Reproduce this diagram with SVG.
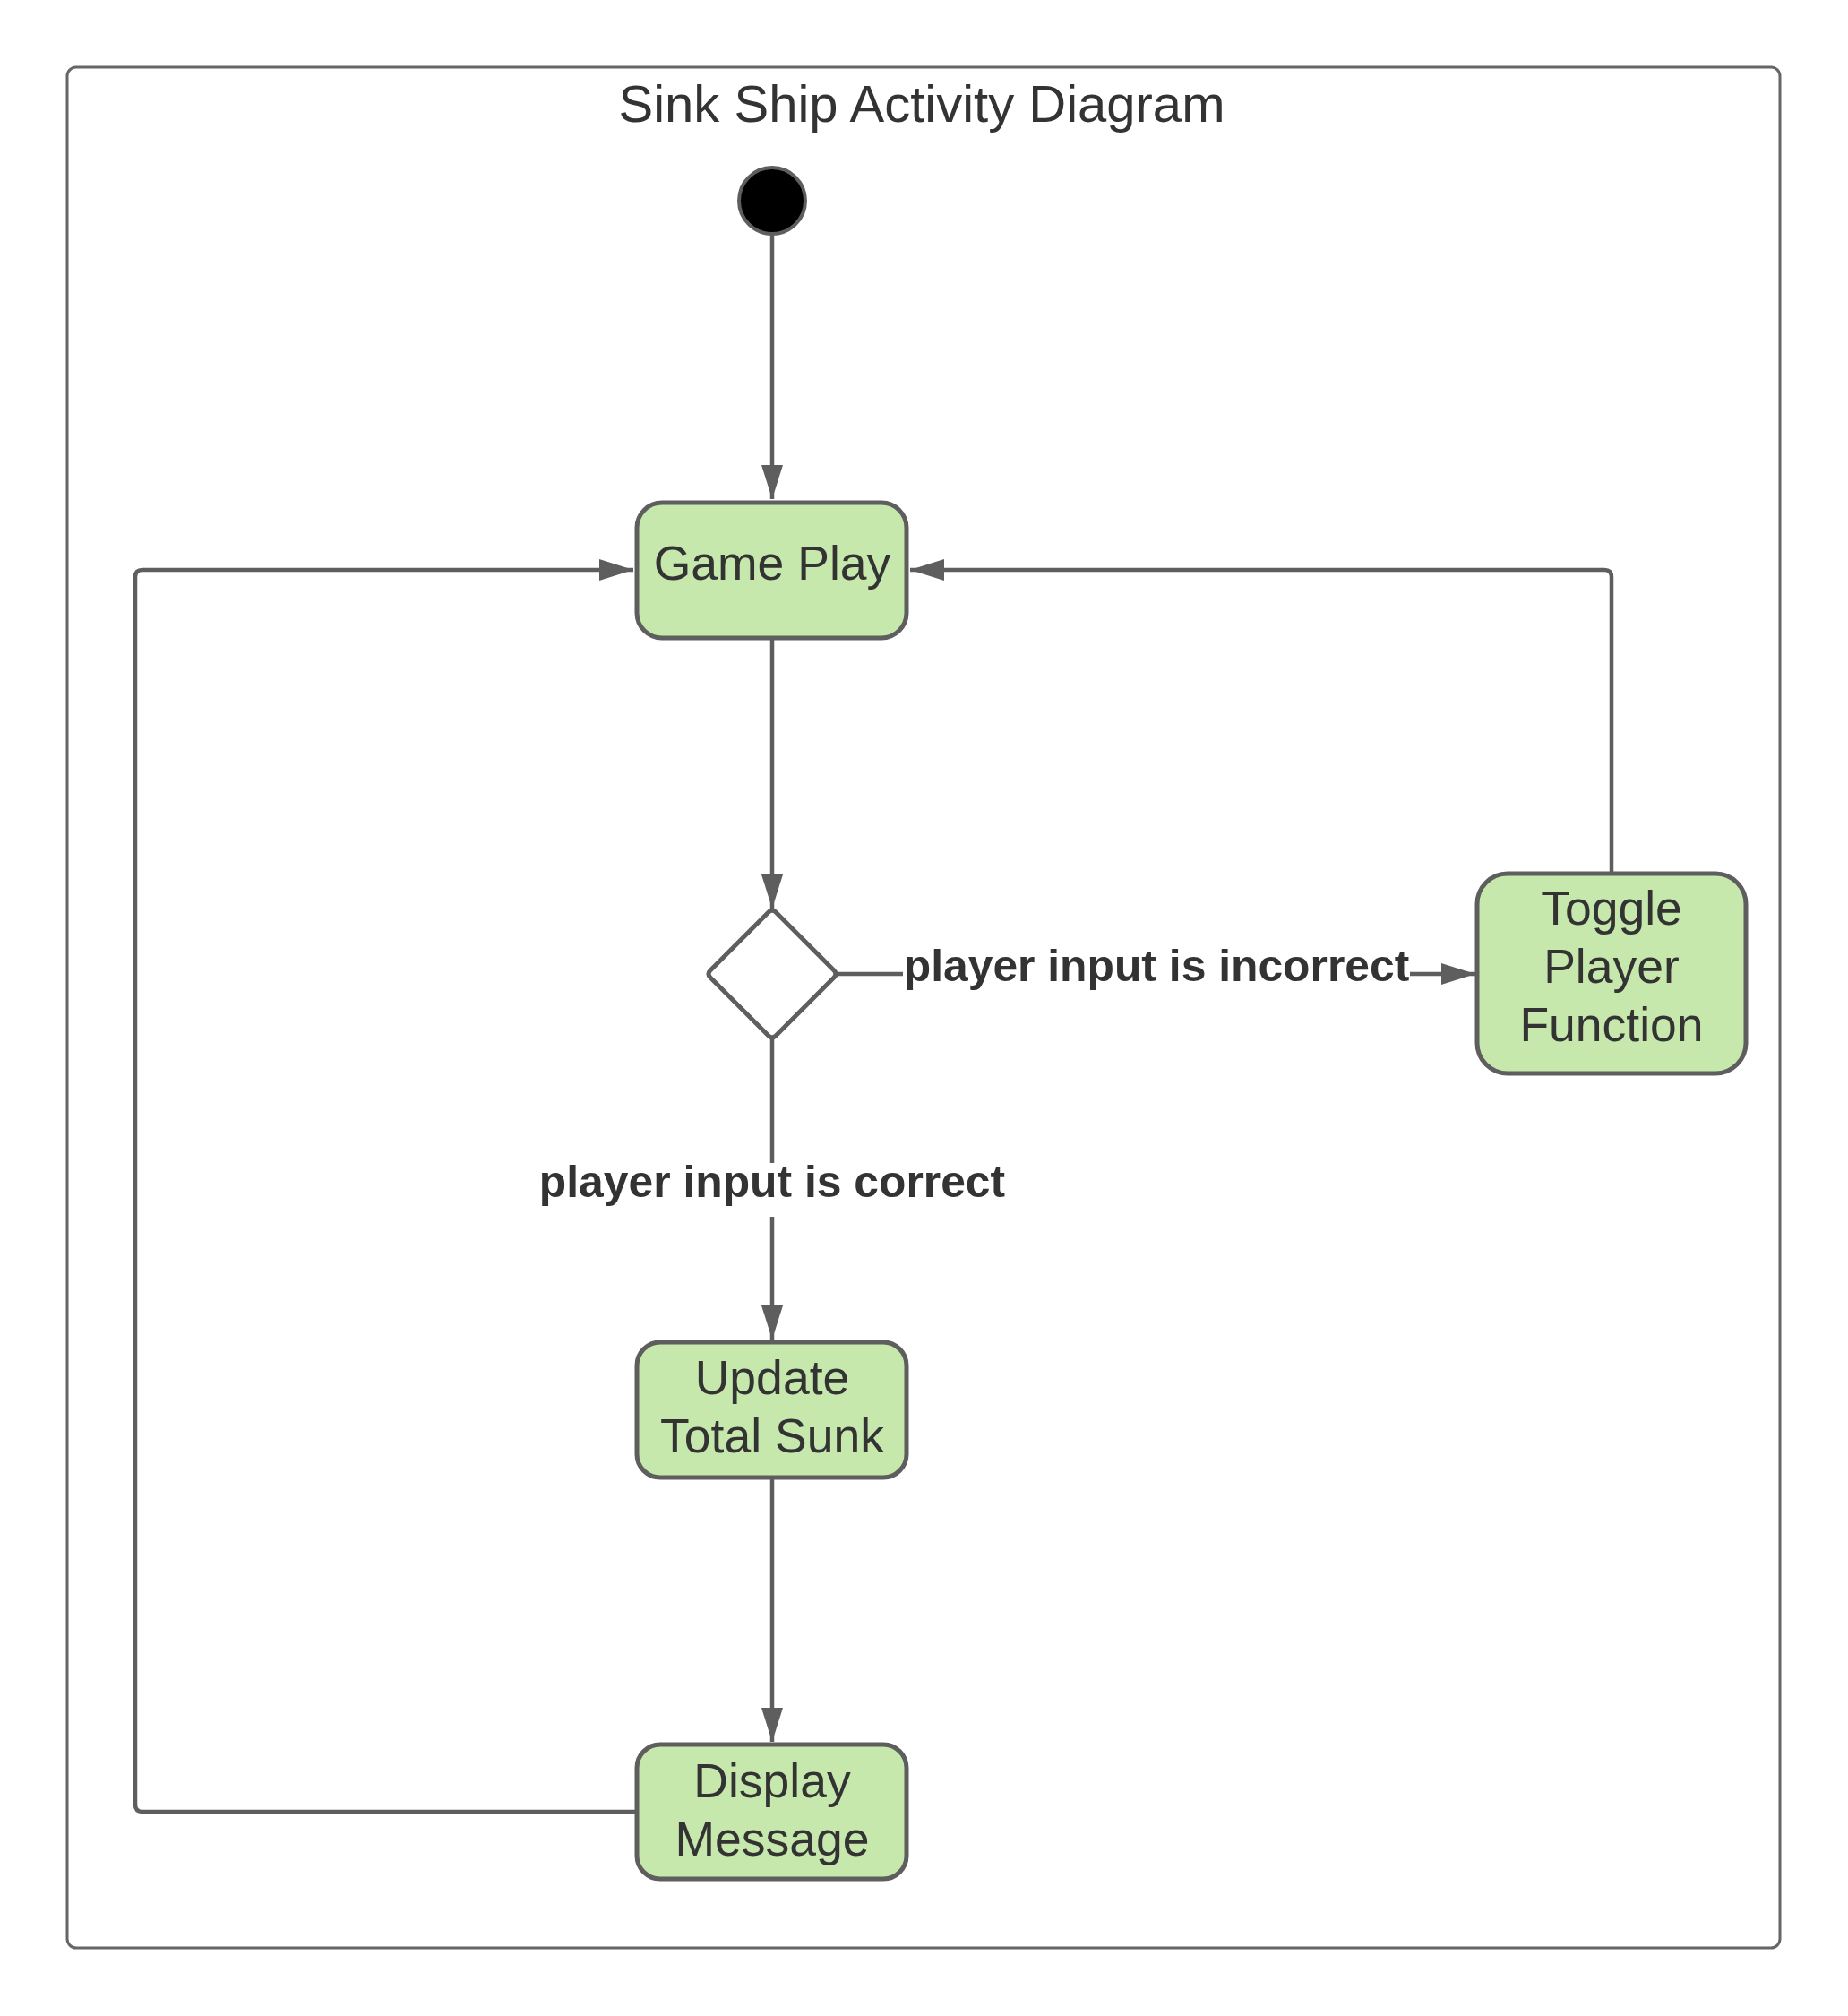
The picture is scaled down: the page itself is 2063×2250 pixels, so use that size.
<svg xmlns="http://www.w3.org/2000/svg" width="2063" height="2250" viewBox="0 0 2063 2250">
  <style>
    .frame { fill: #ffffff; stroke: #666666; stroke-width: 3; }
    .title { font-family: "Liberation Sans", Arial, sans-serif; font-size: 58px; fill: #333333; text-anchor: middle; }
    .node { fill: #c7e8ac; stroke: #5e5e5e; stroke-width: 5; }
    .node-text { font-family: "Liberation Sans", Arial, sans-serif; font-size: 53.5px; fill: #333333; text-anchor: middle; }
    .edge { fill: none; stroke: #5e5e5e; stroke-width: 4.5; }
    .label { font-family: "Liberation Sans", Arial, sans-serif; font-size: 49.8px; font-weight: bold; fill: #333333; text-anchor: middle; }
    .label-bg { fill: #ffffff; }
  </style>
  <defs>
    <marker id="arrow" markerUnits="userSpaceOnUse" markerWidth="38" markerHeight="24" viewBox="0 0 38 24" refX="38" refY="12" orient="auto">
      <path d="M0,0 L38,12 L0,24 Z" fill="#5e5e5e"/>
    </marker>
  </defs>

  <rect width="2063" height="2250" fill="#ffffff"/>

  <g id="frame">
    <rect class="frame" x="75" y="75" width="1912" height="2099" rx="10" ry="10"/>
    <text class="title" x="1029" y="136">Sink Ship Activity Diagram</text>
  </g>

  <g id="connectors">
    <path class="edge" d="M862,262 L862,557" marker-end="url(#arrow)"/>
    <path class="edge" d="M862,714 L862,1014" marker-end="url(#arrow)"/>
    <path class="edge" d="M935,1087 L1647,1087" marker-end="url(#arrow)"/>
    <path class="edge" d="M862,1159 L862,1495" marker-end="url(#arrow)"/>
    <path class="edge" d="M862,1651 L862,1944" marker-end="url(#arrow)"/>
    <path class="edge" d="M709,2022 L159,2022 Q151,2022 151,2014 L151,644 Q151,636 159,636 L707,636" marker-end="url(#arrow)"/>
    <path class="edge" d="M1799,973 L1799,644 Q1799,636 1791,636 L1016,636" marker-end="url(#arrow)"/>
    <g id="label-incorrect">
      <rect class="label-bg" x="1008" y="1060" width="566" height="52"/>
      <text class="label" x="1291" y="1095">player input is incorrect</text>
    </g>
    <g id="label-correct">
      <rect class="label-bg" x="600" y="1298" width="524" height="60"/>
      <text class="label" x="862" y="1336">player input is correct</text>
    </g>
  </g>

  <g id="start">
    <circle cx="862" cy="224" r="37" fill="#000000" stroke="#5e5e5e" stroke-width="4"/>
  </g>

  <g id="game-play">
    <rect class="node" x="711" y="561" width="301" height="151" rx="28" ry="28" stroke-width="6"/>
    <text class="node-text" x="862" y="647">Game Play</text>
  </g>

  <g id="decision">
    <path d="M858,1018 Q862,1014 866,1018 L931,1083 Q935,1087 931,1091 L866,1156 Q862,1160 858,1156 L793,1091 Q789,1087 793,1083 Z" fill="#ffffff" stroke="#5e5e5e" stroke-width="5"/>
  </g>

  <g id="toggle-player">
    <rect class="node" x="1649" y="975" width="300" height="223" rx="34" ry="34"/>
    <text class="node-text" x="1799" y="1032">Toggle</text>
    <text class="node-text" x="1799" y="1097">Player</text>
    <text class="node-text" x="1799" y="1162">Function</text>
  </g>

  <g id="update-total">
    <rect class="node" x="711" y="1498" width="301" height="151" rx="26" ry="26"/>
    <text class="node-text" x="862" y="1556">Update</text>
    <text class="node-text" x="862" y="1621">Total Sunk</text>
  </g>

  <g id="display-message">
    <rect class="node" x="711" y="1947" width="301" height="150" rx="26" ry="26"/>
    <text class="node-text" x="862" y="2006">Display</text>
    <text class="node-text" x="862" y="2071">Message</text>
  </g>
</svg>
